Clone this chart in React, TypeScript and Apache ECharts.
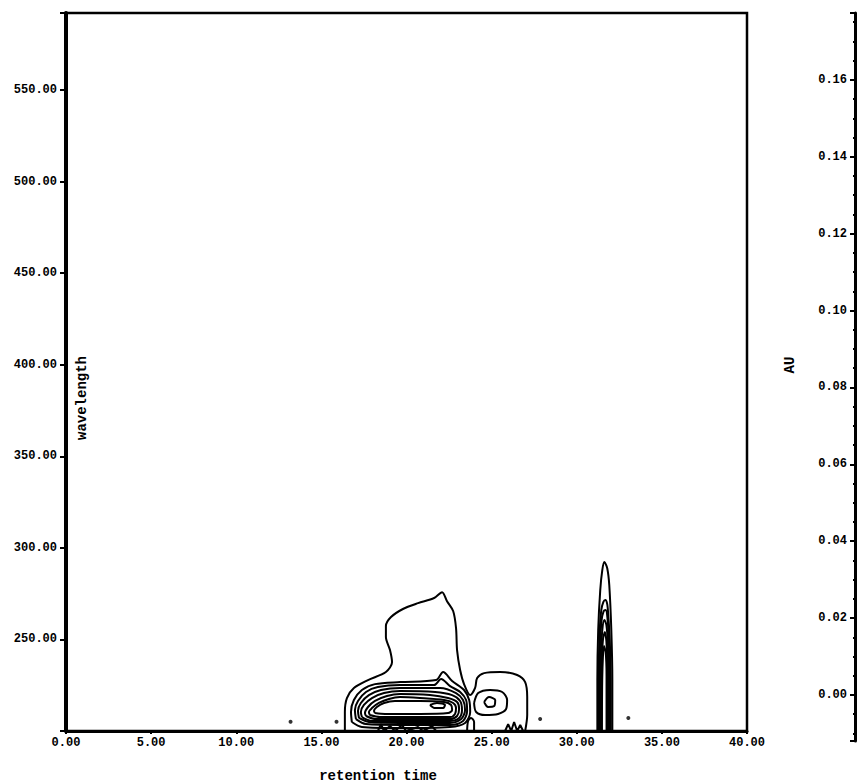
import React, { useEffect, useRef } from "react";
import * as echarts from "echarts";

type Pt = [number, number];

// Axis extents (retention time in min, wavelength in nm, absorbance in AU)
const timeRange: Pt = [0, 40];
const waveRange: Pt = [200, 592];
const auRange: Pt = [-0.012, 0.1774];

// Outer contour around the main peak (~20 min) joined with the lobe at ~25 min
const hatContour: Pt[] = [
  [16.38, 200], [16.38, 210.4], [16.5, 218.0], [16.91, 223.5], [17.74, 227.8], [18.79, 232.2],
  [19.15, 237.6], [19.03, 244.2], [18.79, 251.3], [18.79, 257.3], [19.09, 262.2], [19.79, 266.6],
  [20.68, 269.8], [21.62, 272.6], [22.09, 275.8], [22.38, 270.9], [22.74, 265.5], [22.91, 256.2],
  [22.97, 244.2], [23.15, 233.3], [23.38, 225.6], [23.74, 219.6], [24.03, 223.5], [24.15, 228.9],
  [24.56, 231.6], [25.5, 232.2], [26.5, 230.6], [26.97, 226.7], [27.09, 218.5], [27.09, 208.7],
  [26.97, 200],
];

// Nested rings of the main peak (outer to inner)
const ringA1: Pt[] = [
  [16.79, 204.9], [17.38, 202.2], [19.62, 201.6], [22.56, 202.2], [23.44, 204.4], [23.74, 210.4],
  [23.68, 216.9], [23.38, 222.4], [22.68, 227.3], [22.15, 232.2], [21.74, 227.8], [19.62, 226.7],
  [18.15, 225.6], [17.38, 222.4], [16.91, 216.9], [16.74, 210.4],
];
const ringA2: Pt[] = [
  [17.03, 206.5], [17.62, 203.8], [19.62, 203.3], [22.56, 203.3], [23.32, 205.5], [23.56, 210.9],
  [23.5, 216.9], [23.15, 221.3], [22.56, 224.5], [22.03, 228.4], [21.62, 225.1], [19.62, 225.1],
  [18.32, 224.0], [17.62, 221.3], [17.15, 216.4], [16.97, 211.5],
];
const ringA3: Pt[] = [
  [17.21, 207.1], [17.79, 204.9], [19.62, 204.4], [22.56, 204.4], [23.21, 206.5], [23.44, 211.5],
  [23.32, 216.9], [22.91, 220.7], [21.97, 223.5], [19.62, 223.5], [18.5, 222.4], [17.79, 219.6],
  [17.32, 215.3], [17.15, 210.9],
];
const ringA4: Pt[] = [
  [17.38, 207.6], [17.97, 205.5], [19.62, 205.5], [22.56, 205.5], [23.09, 207.1], [23.26, 211.5],
  [23.15, 216.4], [22.68, 219.6], [21.68, 221.3], [19.62, 221.8], [18.68, 220.7], [17.97, 218.0],
  [17.5, 214.2], [17.32, 210.4],
];
const ringA5: Pt[] = [
  [17.62, 208.2], [18.21, 206.5], [19.62, 206.5], [22.56, 206.5], [22.97, 208.2], [23.09, 212.0],
  [22.97, 215.8], [22.44, 218.0], [21.38, 219.6], [19.62, 220.2], [18.85, 219.1], [18.15, 216.4],
  [17.74, 213.1], [17.56, 209.8],
];
const ringA6: Pt[] = [
  [17.85, 208.7], [18.44, 207.6], [20.79, 207.6], [22.56, 207.6], [22.85, 209.3], [22.91, 212.5],
  [22.74, 215.3], [22.21, 216.9], [20.79, 218.0], [19.62, 218.5], [18.97, 217.5], [18.38, 215.3],
  [17.97, 212.5], [17.79, 210.4],
];
const ringA7: Pt[] = [
  [18.15, 209.8], [18.74, 209.3], [20.79, 209.3], [22.44, 209.8], [22.68, 211.5], [22.62, 214.2],
  [22.21, 215.8], [20.79, 216.4], [19.32, 216.4], [18.68, 215.3], [18.26, 213.1], [18.09, 210.9],
];
const islandA: Pt[] = [
  [21.38, 214.2], [21.79, 215.3], [22.26, 214.2], [22.15, 212.5], [21.68, 212.5],
];

// Second (smaller) peak at ~25 min
const lobeRing: Pt[] = [
  [23.97, 215.3], [24.21, 220.7], [24.91, 222.4], [25.62, 221.3], [25.91, 216.9], [25.85, 212.0],
  [25.38, 209.3], [24.62, 208.7], [24.09, 210.4],
];
const lobeCore: Pt[] = [
  [24.56, 215.8], [24.85, 218.5], [25.21, 216.9], [25.15, 213.6], [24.79, 213.1],
];
const saddleBump: Pt[] = [
  [23.56, 200], [23.62, 205.5], [23.79, 207.1], [23.97, 204.9], [23.97, 200],
];

// Narrow peak at ~31.6 min (contours open at the lower wavelength limit)
const peakB1: Pt[] = [
  [31.21, 200], [31.21, 227.8], [31.26, 255.1], [31.38, 276.9], [31.5, 287.8], [31.62, 292.2],
  [31.79, 288.9], [31.91, 279.7], [32.03, 255.1], [32.09, 227.8], [32.09, 200],
];
const peakB2: Pt[] = [
  [31.29, 200], [31.29, 227.8], [31.35, 255.1], [31.44, 266.0], [31.56, 270.4], [31.68, 271.5],
  [31.79, 269.3], [31.85, 263.3], [31.94, 249.6], [32.0, 222.4], [32.0, 200],
];
const peakB3: Pt[] = [
  [31.35, 200], [31.35, 240], [31.45, 260], [31.58, 265.5], [31.7, 266.0], [31.8, 262],
  [31.88, 250], [31.93, 225], [31.93, 200],
];
const peakB4: Pt[] = [
  [31.4, 200], [31.41, 240], [31.5, 255], [31.62, 260.6], [31.74, 258], [31.82, 248],
  [31.86, 225], [31.86, 200],
];
const peakB5: Pt[] = [
  [31.44, 200], [31.46, 235], [31.54, 250], [31.65, 254], [31.74, 249], [31.8, 235], [31.8, 200],
];
const peakB6: Pt[] = [
  [31.48, 200], [31.5, 230], [31.6, 246.4], [31.7, 243], [31.75, 230], [31.75, 200],
];

// Baseline noise contours and isolated specks
const noiseA: Pt[] = [
  [18.32, 200], [18.5, 203.8], [18.68, 200], [19.03, 202.7], [19.32, 200], [19.74, 203.3],
  [19.97, 200], [20.68, 202.2], [20.97, 200], [21.5, 202.7], [21.74, 200],
];
const noiseB: Pt[] = [
  [25.79, 200], [25.97, 203.8], [26.15, 200], [26.32, 204.9], [26.5, 200], [26.68, 203.3], [26.85, 200],
];
const specks: Pt[] = [
  [13.19, 205.1], [15.89, 205.1], [27.85, 206.5], [33.03, 207.1],
];

const closedRings = [ringA1, ringA2, ringA3, ringA4, ringA5, ringA6, ringA7, islandA, lobeRing, lobeCore];
const openLines = [hatContour, saddleBump, peakB1, peakB2, peakB3, peakB4, peakB5, peakB6];
const noiseLines = [noiseA, noiseB];

const FONT = "Liberation Mono";

export default function App() {
  const ref = useRef<HTMLDivElement>(null);

  useEffect(() => {
    const chart = echarts.init(ref.current!, null, { renderer: "svg" });
    const lineStyle = { color: "#000", width: 2 };
    const mk = (pts: Pt[], close: boolean, smooth: number | boolean) => ({
      type: "line",
      xAxisIndex: 0,
      yAxisIndex: 0,
      data: close ? [...pts, pts[0]] : pts,
      showSymbol: false,
      symbol: "none",
      smooth,
      lineStyle,
      silent: true,
      z: 3,
    });
    const series: any[] = [
      ...closedRings.map((r) => mk(r, true, 0.3)),
      ...openLines.map((r) => mk(r, false, 0.3)),
      ...noiseLines.map((r) => mk(r, false, false)),
      {
        type: "scatter",
        xAxisIndex: 0,
        yAxisIndex: 0,
        data: specks,
        symbolSize: 4,
        itemStyle: { color: "#000" },
        silent: true,
      },
    ];
    const labelStyle = {
      color: "#000",
      fontFamily: FONT,
      fontWeight: "bold" as const,
      fontSize: 12,
    };
    const option: any = {
      animation: false,
      backgroundColor: "#fff",
      grid: [
        { left: 66, right: 111, top: 13, bottom: 53, show: true, borderColor: "#000", borderWidth: 2.5, backgroundColor: "transparent" },
        { left: 780, right: 3, top: 13, bottom: 42.9, show: false },
      ],
      xAxis: [
        {
          type: "value",
          gridIndex: 0,
          min: timeRange[0],
          max: timeRange[1],
          interval: 5,
          axisLine: { show: true, onZero: false, lineStyle: { color: "#000", width: 3 } },
          axisTick: { show: true, length: 3, lineStyle: { color: "#000", width: 2 } },
          minorTick: { show: true, splitNumber: 5, length: 2, lineStyle: { color: "#000", width: 2 } },
          axisLabel: { ...labelStyle, margin: 6, formatter: (v: number) => v.toFixed(2) },
          splitLine: { show: false },
        },
        { type: "value", gridIndex: 1, show: false, min: 0, max: 1 },
      ],
      yAxis: [
        {
          type: "value",
          gridIndex: 0,
          min: waveRange[0],
          max: waveRange[1],
          interval: 50,
          axisLine: { show: true, onZero: false, lineStyle: { color: "#000", width: 4 } },
          axisTick: { show: true, length: 6, lineStyle: { color: "#000", width: 2 } },
          minorTick: { show: true, splitNumber: 5, length: 2, lineStyle: { color: "#000", width: 2 } },
          axisLabel: {
            ...labelStyle,
            margin: 9,
            showMinLabel: false,
            showMaxLabel: false,
            formatter: (v: number) => v.toFixed(2),
          },
          splitLine: { show: false },
        },
        {
          type: "value",
          gridIndex: 1,
          position: "right",
          min: auRange[0],
          max: auRange[1],
          splitNumber: 9,
          minInterval: 0.02,
          maxInterval: 0.02,
          axisLine: { show: true, onZero: false, lineStyle: { color: "#000", width: 3 } },
          axisTick: { show: true, inside: true, length: 5, lineStyle: { color: "#000", width: 2 } },
          minorTick: { show: true, splitNumber: 4, length: 2, lineStyle: { color: "#000", width: 2 } },
          axisLabel: {
            ...labelStyle,
            inside: true,
            margin: 8,
            showMinLabel: false,
            showMaxLabel: false,
            formatter: (v: number) => v.toFixed(2),
          },
          splitLine: { show: false },
        },
      ],
      graphic: [
        {
          type: "text",
          x: 82,
          y: 398,
          rotation: Math.PI / 2,
          style: { text: "wavelength", font: `bold 14px "${FONT}"`, fill: "#000", textAlign: "center", textVerticalAlign: "middle" },
        },
        {
          type: "text",
          x: 790,
          y: 365,
          rotation: Math.PI / 2,
          style: { text: "AU", font: `bold 14px "${FONT}"`, fill: "#000", textAlign: "center", textVerticalAlign: "middle" },
        },
        {
          type: "text",
          x: 378,
          y: 776,
          style: { text: "retention time", font: `bold 14px "${FONT}"`, fill: "#000", textAlign: "center", textVerticalAlign: "middle" },
        },
      ],
      series,
    };
    chart.setOption(option);
    return () => chart.dispose();
  }, []);

  return (
    <div
      ref={ref}
      style={{ position: "absolute", left: 0, top: 0, width: 858, height: 784, background: "#fff" }}
    />
  );
}
